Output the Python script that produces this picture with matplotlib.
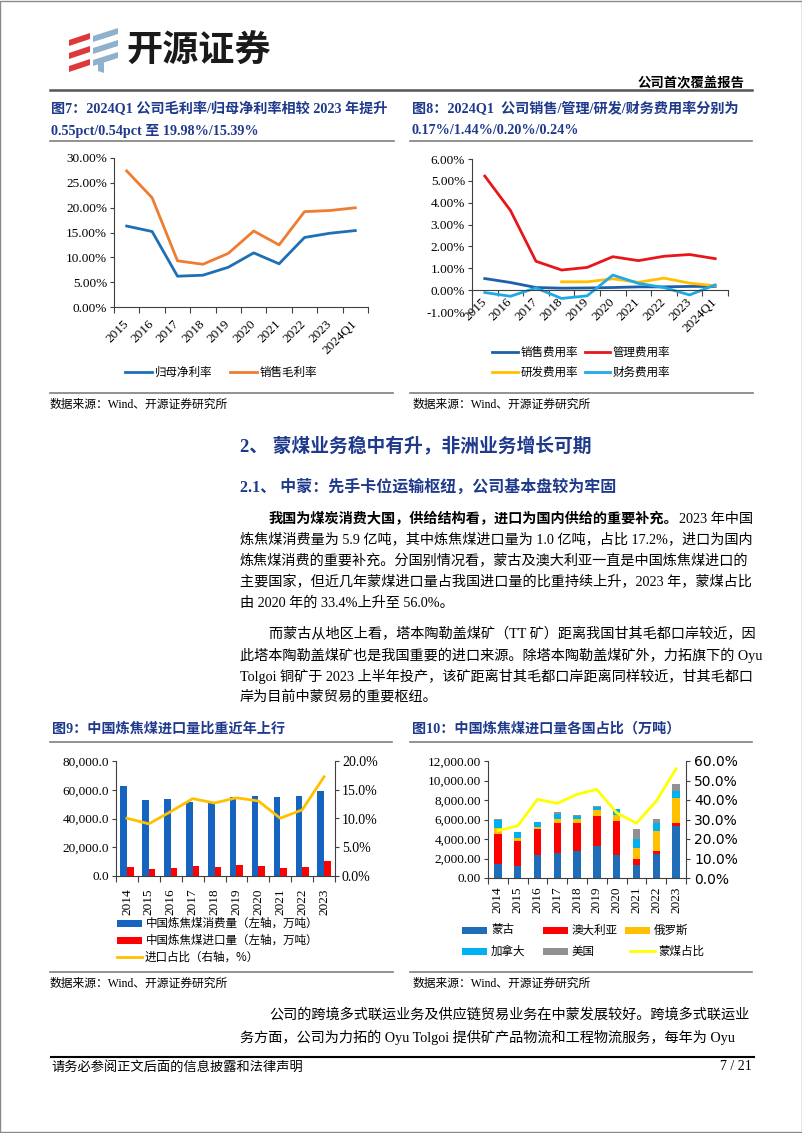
import numpy as np
import matplotlib
matplotlib.use('Agg')
import matplotlib.pyplot as plt
from matplotlib.lines import Line2D
from matplotlib.patches import Rectangle, Polygon
from matplotlib.ticker import FuncFormatter

plt.rcParams['axes.unicode_minus'] = False
SERIF = ['Liberation Serif', 'Noto Sans CJK SC']
CJK = ['Noto Sans CJK SC', 'DejaVu Sans']
plt.rcParams['font.family'] = SERIF

# ---- data ----
years7 = ['2015', '2016', '2017', '2018', '2019', '2020', '2021', '2022', '2023', '2024Q1']
net_margin = [16.3, 15.2, 6.2, 6.4, 8.0, 10.9, 8.7, 14.0, 14.85, 15.39]
gross_margin = [27.4, 22.0, 9.3, 8.6, 10.8, 15.3, 12.5, 19.2, 19.43, 19.98]

sell_rate = [0.53, 0.35, 0.12, 0.09, 0.10, 0.12, 0.15, 0.15, 0.17, 0.17]
admin_rate = [5.22, 3.65, 1.32, 0.92, 1.04, 1.53, 1.35, 1.55, 1.63, 1.44]
rd_rate = [np.nan, np.nan, np.nan, 0.38, 0.38, 0.52, 0.36, 0.55, 0.32, 0.20]
fin_rate = [-0.11, -0.28, 0.10, -0.38, -0.26, 0.69, 0.31, 0.12, -0.22, 0.24]

years9 = ['2014', '2015', '2016', '2017', '2018', '2019', '2020', '2021', '2022', '2023']
coking_use = [62300, 53100, 53600, 51700, 51200, 54700, 55900, 54700, 55900, 59300]
coking_import = [6300, 4800, 5900, 6900, 6500, 7500, 7300, 5500, 6300, 10200]
import_share = [10.05, 9.07, 11.2, 13.45, 12.7, 13.6, 13.05, 10.05, 11.5, 17.25]

mongolia = [1460, 1260, 2310, 2550, 2760, 3330, 2350, 1330, 2480, 5340]
australia = [3070, 2550, 2700, 3070, 2860, 3070, 3480, 640, 240, 270]
russia = [580, 310, 270, 480, 410, 550, 670, 1060, 2110, 2550]
canada = [850, 580, 510, 440, 340, 370, 560, 960, 850, 780]
usa = [100, 50, 0, 270, 100, 80, 30, 1020, 370, 680]
mongolia_share = [24.3, 26.7, 40.3, 38.3, 42.9, 45.4, 33.4, 28.1, 39.5, 56.0]

W, H = 802, 1133
fig = plt.figure(figsize=(W / 100, H / 100), dpi=100)
NAVY = '#1f3a8c'


def fx(x):
    return x / W


def fy(y):
    return 1 - y / H


def box(l, t, r, b):
    return [fx(l), fy(b), (r - l) / W, (b - t) / H]


def hline(x0, x1, y, color='#7f7f7f', lw=1.2):
    fig.add_artist(Line2D([fx(x0), fx(x1)], [fy(y), fy(y)], color=color, lw=lw))


def txt(x, y, s, size=10.2, **kw):
    kw.setdefault('va', 'center')
    kw.setdefault('family', SERIF)
    return fig.text(fx(x), fy(y), s, fontsize=size, **kw)


def leg_line(x0, x1, y, color, label):
    fig.add_artist(Line2D([fx(x0), fx(x1)], [fy(y), fy(y)], color=color, lw=2))
    txt(x1 + 3, y, label, size=8.3, family=CJK)


def leg_patch(x0, x1, y, color, label):
    fig.add_artist(Rectangle((fx(x0), fy(y + 3.5)), (x1 - x0) / W, 7 / H, color=color, lw=0))
    txt(x1 + 4, y, label, size=8.3, family=CJK)


# ---- page frame / header ----
fig.add_artist(Rectangle((0.0005, 0.0005), 0.999, 0.999, fill=False, ec='#8a8a8a', lw=1))

for k in range(3):
    yy = 40 + k * 13
    fig.add_artist(Polygon([(fx(69), fy(yy + 6)), (fx(90), fy(yy - 1)), (fx(90), fy(yy - 7)),
                            (fx(69), fy(yy))], closed=True, color='#e0373a', lw=0))
    yb = 36 + k * 12
    fig.add_artist(Polygon([(fx(93), fy(yb + 6)), (fx(118), fy(yb - 2)), (fx(118), fy(yb - 8)),
                            (fx(93), fy(yb))], closed=True, color='#8fb1cc', lw=0))
fig.add_artist(Polygon([(fx(98), fy(64)), (fx(104), fy(62)), (fx(104), fy(73)), (fx(98), fy(71))],
                       closed=True, color='#8fb1cc', lw=0))
txt(126, 51, '开源证券', size=26, family=CJK, weight='bold', color='#1a1a1a')
txt(744, 83, '公司首次覆盖报告', size=9.6, family=CJK, weight='bold', ha='right')
hline(50, 752, 90, color='#555555', lw=1.8)

# ---- figure titles ----
txt(51, 109, '图7：2024Q1 公司毛利率/归母净利率相较 2023 年提升', size=10.2, weight='bold', color=NAVY)
txt(51, 131, '0.55pct/0.54pct 至 19.98%/15.39%', size=10.2, weight='bold', color=NAVY)
txt(412, 109, '图8：2024Q1  公司销售/管理/研发/财务费用率分别为', size=10.2, weight='bold', color=NAVY)
txt(412, 131, '0.17%/1.44%/0.20%/0.24%', size=10.2, weight='bold', color=NAVY)
hline(50, 394, 141)
hline(410, 752, 141)


def style_axes(ax):
    for s in ['top', 'right']:
        ax.spines[s].set_visible(False)
    for s in ['left', 'bottom']:
        ax.spines[s].set_color('#404040')
        ax.spines[s].set_linewidth(0.8)
    ax.tick_params(axis='y', length=3, width=0.8, color='#404040', labelsize=9.5, pad=2)
    ax.set_facecolor('none')


# ---- chart 7 ----
ax7 = fig.add_axes(box(114, 158, 368, 307))
x = np.arange(len(years7))
ax7.plot(x, net_margin, color='#1f6fb5', lw=2)
ax7.plot(x, gross_margin, color='#ed7d31', lw=2)
ax7.set_xlim(-0.5, 9.5)
ax7.set_ylim(0, 30)
ax7.set_yticks(np.arange(0, 31, 5))
ax7.yaxis.set_major_formatter(FuncFormatter(lambda v, p: f'{v:.2f}%'))
ax7.set_xticks(x)
ax7.set_xticklabels(years7, rotation=45, ha='right', va='center', rotation_mode='anchor')
ax7.set_xticks(np.arange(-0.5, 10, 1), minor=True)
style_axes(ax7)
ax7.tick_params(axis='x', which='major', length=0, labelsize=9.5, pad=11)
ax7.tick_params(axis='x', which='minor', length=4, width=0.8, color='#404040')
leg_line(125, 152, 372, '#1f6fb5', '归母净利率')
leg_line(230, 257, 372, '#ed7d31', '销售毛利率')
hline(50, 393, 393)
txt(50, 405, '数据来源：Wind、开源证券研究所', size=8.5)

# ---- chart 8 ----
ax8 = fig.add_axes(box(472, 159, 728, 312))
ax8.plot(x, sell_rate, color='#1f5fa8', lw=2)
ax8.plot(x, admin_rate, color='#e8161b', lw=2)
ax8.plot(x, rd_rate, color='#ffc000', lw=2)
ax8.plot(x, fin_rate, color='#1eaae6', lw=2)
ax8.set_xlim(-0.5, 9.5)
ax8.set_ylim(-1, 6)
ax8.set_yticks(np.arange(-1, 7, 1))
ax8.yaxis.set_major_formatter(FuncFormatter(lambda v, p: f'{v:.2f}%'))
ax8.spines['bottom'].set_position(('data', 0))
ax8.set_xticks(x)
ax8.set_xticklabels(years7, rotation=45, ha='right', va='center', rotation_mode='anchor')
ax8.set_xticks(np.arange(-0.5, 10, 1), minor=True)
style_axes(ax8)
ax8.tick_params(axis='x', which='major', length=0, labelsize=9.5, pad=7)
ax8.tick_params(axis='x', which='minor', length=4, width=0.8, color='#404040')
leg_line(492, 518, 352, '#1f5fa8', '销售费用率')
leg_line(585, 610, 352, '#e8161b', '管理费用率')
leg_line(492, 518, 372, '#ffc000', '研发费用率')
leg_line(585, 610, 372, '#1eaae6', '财务费用率')
hline(410, 753, 393)
txt(413, 405, '数据来源：Wind、开源证券研究所', size=8.5)

# ---- body text ----
txt(240, 447, '2、 蒙煤业务稳中有升，非洲业务增长可期', size=13.5, weight='bold', color=NAVY)
txt(240, 488, '2.1、 中蒙：先手卡位运输枢纽，公司基本盘较为牢固', size=11.5, weight='bold', color=NAVY)

renderer = fig.canvas.get_renderer()
t = txt(269, 519, '我国为煤炭消费大国，供给结构看，进口为国内供给的重要补充。', weight='bold')
bb = t.get_window_extent(renderer=renderer)
fig.text(bb.x1 / fig.bbox.width, fy(519), '2023 年中国', fontsize=10.2, va='center', family=SERIF)

body = [
    (240, 540, '炼焦煤消费量为 5.9 亿吨，其中炼焦煤进口量为 1.0 亿吨，占比 17.2%，进口为国内'),
    (240, 561, '炼焦煤消费的重要补充。分国别情况看，蒙古及澳大利亚一直是中国炼焦煤进口的'),
    (240, 582, '主要国家，但近几年蒙煤进口量占我国进口量的比重持续上升，2023 年，蒙煤占比'),
    (240, 603, '由 2020 年的 33.4%上升至 56.0%。'),
    (269, 634, '而蒙古从地区上看，塔本陶勒盖煤矿（TT 矿）距离我国甘其毛都口岸较近，因'),
    (240, 655, '此塔本陶勒盖煤矿也是我国重要的进口来源。除塔本陶勒盖煤矿外，力拓旗下的 Oyu'),
    (240, 676, 'Tolgoi 铜矿于 2023 上半年投产，该矿距离甘其毛都口岸距离同样较近，甘其毛都口'),
    (240, 697, '岸为目前中蒙贸易的重要枢纽。'),
    (269, 1015, '公司的跨境多式联运业务及供应链贸易业务在中蒙发展较好。跨境多式联运业'),
    (240, 1037, '务方面，公司为力拓的 Oyu Tolgoi 提供矿产品物流和工程物流服务，每年为 Oyu'),
]
for bx, by, s in body:
    txt(bx, by, s)

txt(52, 729, '图9：中国炼焦煤进口量比重近年上行', size=10.2, weight='bold', color=NAVY)
txt(412, 729, '图10：中国炼焦煤进口量各国占比（万吨）', size=10.2, weight='bold', color=NAVY)
hline(50, 392, 742)
hline(410, 752, 742)

# ---- chart 9 ----
x9 = np.arange(len(years9))
ax9 = fig.add_axes(box(116, 761, 335, 876))
ax9.bar(x9 - 0.15, coking_use, width=0.3, color='#1565c0')
ax9.bar(x9 + 0.15, coking_import, width=0.3, color='#ff0000')
ax9.set_xlim(-0.5, 9.5)
ax9.set_ylim(0, 80000)
ax9.set_yticks(np.arange(0, 80001, 20000))
ax9.yaxis.set_major_formatter(FuncFormatter(lambda v, p: f'{v:,.1f}'))
ax9.set_xticks(x9)
ax9.set_xticklabels(years9, rotation=90, ha='center', va='top')
ax9.set_xticks(np.arange(-0.5, 10, 1), minor=True)
style_axes(ax9)
ax9.tick_params(axis='x', which='major', length=0, labelsize=9.5, pad=9)
ax9.tick_params(axis='x', which='minor', length=4, width=0.8, color='#404040')
ax9r = ax9.twinx()
ax9r.plot(x9, import_share, color='#ffc000', lw=2)
ax9r.set_ylim(0, 20)
ax9r.set_yticks(np.arange(0, 21, 5))
ax9r.yaxis.set_major_formatter(FuncFormatter(lambda v, p: f'{v:.1f}%'))
for s in ['top', 'left', 'bottom']:
    ax9r.spines[s].set_visible(False)
ax9r.spines['right'].set_color('#404040')
ax9r.spines['right'].set_linewidth(0.8)
ax9r.tick_params(axis='y', length=3, width=0.8, color='#404040', labelsize=10, pad=2)
leg_patch(117, 142, 923, '#1565c0', '中国炼焦煤消费量（左轴，万吨）')
leg_patch(117, 142, 940, '#ff0000', '中国炼焦煤进口量（左轴，万吨）')
leg_line(117, 142, 957, '#ffc000', '进口占比（右轴，%）')
hline(50, 393, 972)
txt(50, 984, '数据来源：Wind、开源证券研究所', size=8.5)

# ---- chart 10 ----
ax10 = fig.add_axes(box(488, 761, 686, 878))
stack = [(mongolia, '#1f6db8', '蒙古'), (australia, '#ff0000', '澳大利亚'),
         (russia, '#ffc000', '俄罗斯'), (canada, '#00b0f0', '加拿大'), (usa, '#919191', '美国')]
bottom = np.zeros(len(years9))
for vals, col, name in stack:
    ax10.bar(x9, vals, bottom=bottom, width=0.38, color=col)
    bottom += np.array(vals)
ax10.set_xlim(-0.5, 9.5)
ax10.set_ylim(0, 12000)
ax10.set_yticks(np.arange(0, 12001, 2000))
ax10.yaxis.set_major_formatter(FuncFormatter(lambda v, p: f'{v:,.2f}'))
ax10.set_xticks(x9)
ax10.set_xticklabels(years9, rotation=90, ha='center', va='top')
ax10.set_xticks(np.arange(-0.5, 10, 1), minor=True)
style_axes(ax10)
ax10.tick_params(axis='x', which='major', length=0, labelsize=9.5, pad=6)
ax10.tick_params(axis='x', which='minor', length=4, width=0.8, color='#404040')
ax10r = ax10.twinx()
ax10r.plot(x9, mongolia_share, color='#ffff00', lw=2)
ax10r.set_ylim(0, 60)
ax10r.set_yticks(np.arange(0, 61, 10))
ax10r.yaxis.set_major_formatter(FuncFormatter(lambda v, p: f'{v:.1f}%'))
for s in ['top', 'left', 'bottom']:
    ax10r.spines[s].set_visible(False)
ax10r.spines['right'].set_color('#404040')
ax10r.spines['right'].set_linewidth(0.8)
ax10r.tick_params(axis='y', length=3, width=0.8, color='#404040', labelsize=10, pad=3)
for lab in ax10r.get_yticklabels():
    lab.set_family('DejaVu Sans')
leg_patch(462, 487, 930, '#1f6db8', '蒙古')
leg_patch(543, 568, 930, '#ff0000', '澳大利亚')
leg_patch(625, 650, 930, '#ffc000', '俄罗斯')
leg_patch(462, 487, 951, '#00b0f0', '加拿大')
leg_patch(543, 568, 951, '#919191', '美国')
leg_line(630, 655, 951, '#ffff00', '蒙煤占比')
hline(410, 752, 972)
txt(413, 984, '数据来源：Wind、开源证券研究所', size=8.5)

# ---- footer ----
hline(51, 754, 1057, color='#000000', lw=1.5)
txt(51, 1067, '请务必参阅正文后面的信息披露和法律声明', size=9.5)
txt(752, 1067, '7 / 21', size=10, ha='right')

fig.savefig('out.png', dpi=100)
